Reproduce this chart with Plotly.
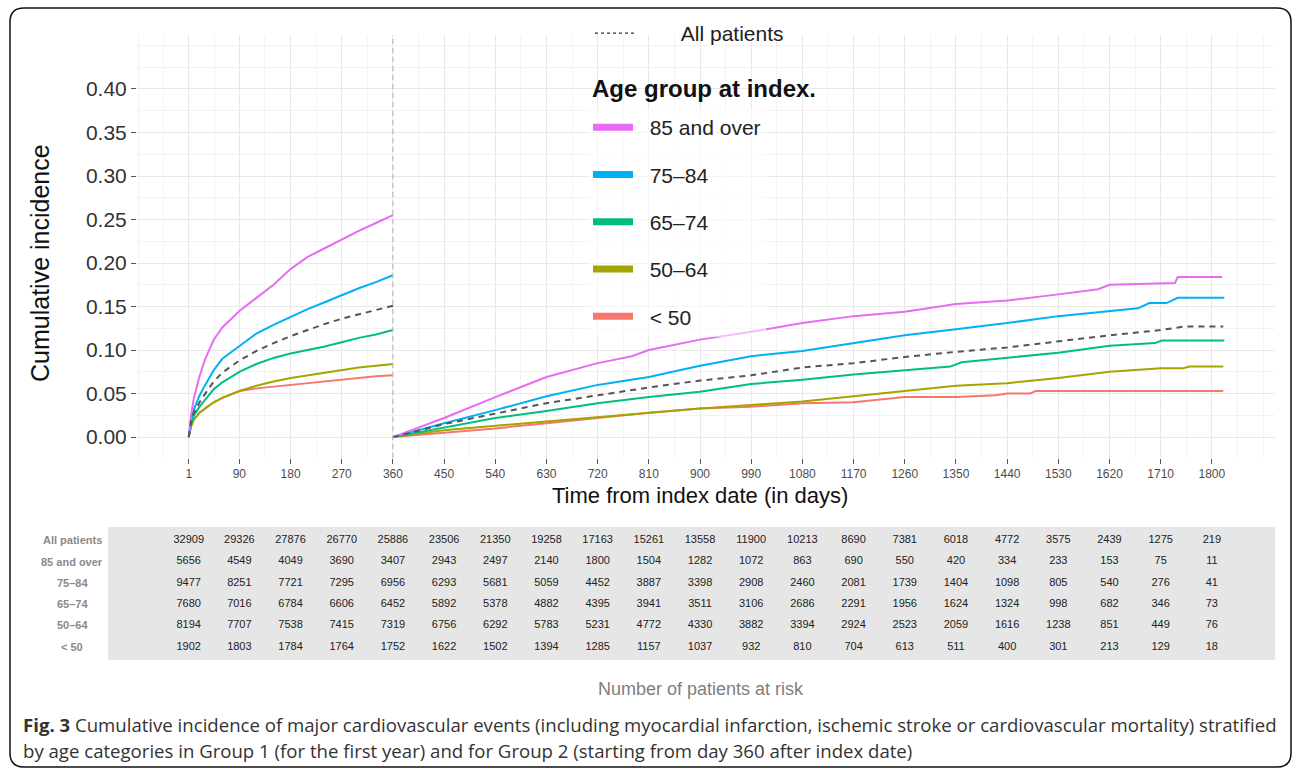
import plotly.graph_objects as go

W, H = 1295, 774

# ---------------- data ----------------
groups = ["85 and over", "75\u201384", "65\u201374", "50\u201364", "< 50"]
colors = ["#E76BF3", "#00B0F6", "#00BF7D", "#A3A500", "#F8766D"]

# Group 1 (first year), days 1..360
days_g1 = [1, 5, 10, 20, 30, 45, 60, 90, 120, 150, 180, 210, 240, 270, 300, 330, 360]
g1_all = [0, 0.018, 0.028, 0.040, 0.050, 0.064, 0.074, 0.088, 0.099, 0.108, 0.116, 0.123, 0.130, 0.136, 0.141, 0.146, 0.151]
g1_85 = [0, 0.025, 0.045, 0.070, 0.090, 0.112, 0.126, 0.145, 0.160, 0.175, 0.193, 0.207, 0.217, 0.227, 0.237, 0.246, 0.255]
g1_75 = [0, 0.020, 0.032, 0.048, 0.060, 0.077, 0.090, 0.105, 0.119, 0.129, 0.138, 0.147, 0.155, 0.163, 0.171, 0.178, 0.186]
g1_65 = [0, 0.015, 0.025, 0.035, 0.043, 0.055, 0.063, 0.075, 0.084, 0.091, 0.096, 0.100, 0.104, 0.109, 0.114, 0.118, 0.123]
g1_50 = [0, 0.012, 0.020, 0.028, 0.033, 0.040, 0.045, 0.053, 0.059, 0.064, 0.068, 0.071, 0.074, 0.077, 0.080, 0.082, 0.084]
g1_u50 = [0, 0.013, 0.020, 0.028, 0.033, 0.040, 0.045, 0.053, 0.056, 0.058, 0.060, 0.062, 0.064, 0.066, 0.068, 0.070, 0.071]

# Group 2 (from day 360)
g2_all_days = [360, 450, 540, 630, 720, 810, 900, 990, 1080, 1170, 1260, 1350, 1440, 1530, 1620, 1710, 1750, 1820]
g2_all = [0, 0.015, 0.027, 0.039, 0.048, 0.057, 0.065, 0.071, 0.080, 0.085, 0.092, 0.098, 0.103, 0.110, 0.117, 0.123, 0.127, 0.127]
g2_85_days = [360, 450, 540, 630, 720, 780, 810, 900, 990, 1080, 1170, 1260, 1350, 1440, 1530, 1600, 1620, 1710, 1735, 1740, 1818]
g2_85 = [0, 0.022, 0.046, 0.069, 0.085, 0.093, 0.100, 0.112, 0.121, 0.131, 0.139, 0.144, 0.153, 0.157, 0.164, 0.170, 0.175, 0.177, 0.177, 0.184, 0.184]
g2_75_days = [360, 450, 540, 630, 720, 810, 900, 990, 1080, 1170, 1260, 1350, 1440, 1530, 1620, 1670, 1690, 1720, 1740, 1822]
g2_75 = [0, 0.016, 0.031, 0.047, 0.060, 0.069, 0.082, 0.093, 0.099, 0.108, 0.117, 0.124, 0.131, 0.139, 0.145, 0.148, 0.154, 0.154, 0.160, 0.160]
g2_65_days = [360, 450, 540, 630, 720, 810, 900, 990, 1080, 1170, 1260, 1340, 1360, 1440, 1530, 1620, 1700, 1712, 1822]
g2_65 = [0, 0.011, 0.022, 0.030, 0.039, 0.046, 0.052, 0.061, 0.066, 0.072, 0.077, 0.081, 0.086, 0.091, 0.097, 0.105, 0.108, 0.111, 0.111]
g2_50_days = [360, 450, 540, 630, 720, 810, 900, 990, 1080, 1170, 1260, 1350, 1440, 1530, 1620, 1710, 1750, 1760, 1820]
g2_50 = [0, 0.008, 0.013, 0.018, 0.023, 0.028, 0.033, 0.037, 0.041, 0.047, 0.053, 0.059, 0.062, 0.068, 0.075, 0.079, 0.079, 0.081, 0.081]
g2_u50_days = [360, 450, 540, 630, 720, 810, 900, 990, 1080, 1170, 1260, 1350, 1420, 1440, 1480, 1490, 1820]
g2_u50 = [0, 0.005, 0.010, 0.016, 0.022, 0.028, 0.033, 0.035, 0.039, 0.040, 0.046, 0.046, 0.048, 0.050, 0.050, 0.053, 0.053]

# Risk table
table_days = [1, 90, 180, 270, 360, 450, 540, 630, 720, 810, 900, 990, 1080, 1170, 1260, 1350, 1440, 1530, 1620, 1710, 1800]
table_rows = ["All patients", "85 and over", "75\u201384", "65\u201374", "50\u201364", "< 50"]
risk_all = [32909, 29326, 27876, 26770, 25886, 23506, 21350, 19258, 17163, 15261, 13558, 11900, 10213, 8690, 7381, 6018, 4772, 3575, 2439, 1275, 219]
risk_85 = [5656, 4549, 4049, 3690, 3407, 2943, 2497, 2140, 1800, 1504, 1282, 1072, 863, 690, 550, 420, 334, 233, 153, 75, 11]
risk_75 = [9477, 8251, 7721, 7295, 6956, 6293, 5681, 5059, 4452, 3887, 3398, 2908, 2460, 2081, 1739, 1404, 1098, 805, 540, 276, 41]
risk_65 = [7680, 7016, 6784, 6606, 6452, 5892, 5378, 4882, 4395, 3941, 3511, 3106, 2686, 2291, 1956, 1624, 1324, 998, 682, 346, 73]
risk_50 = [8194, 7707, 7538, 7415, 7319, 6756, 6292, 5783, 5231, 4772, 4330, 3882, 3394, 2924, 2523, 2059, 1616, 1238, 851, 449, 76]
risk_u50 = [1902, 1803, 1784, 1764, 1752, 1622, 1502, 1394, 1285, 1157, 1037, 932, 810, 704, 613, 511, 400, 301, 213, 129, 18]

x_ticks = table_days
y_ticks = [0, 0.05, 0.10, 0.15, 0.20, 0.25, 0.30, 0.35, 0.40]

# ---------------- helpers ----------------
def px(x):
    return x / W

def py(y):
    return 1 - y / H

FONT = "Liberation Sans, Arial, Helvetica, sans-serif"
CAPTION = "Open Sans, Noto Sans, sans-serif"

fig = go.Figure()

g1_series = [g1_85, g1_75, g1_65, g1_50, g1_u50]
g2_series = [(g2_85_days, g2_85), (g2_75_days, g2_75), (g2_65_days, g2_65),
             (g2_50_days, g2_50), (g2_u50_days, g2_u50)]

for i in reversed(range(5)):
    d2, v2 = g2_series[i]
    fig.add_trace(go.Scatter(
        x=days_g1 + [None] + d2, y=g1_series[i] + [None] + v2,
        mode="lines", line=dict(color=colors[i], width=2),
        showlegend=False, hoverinfo="skip", xaxis="x", yaxis="y"))

fig.add_trace(go.Scatter(
    x=days_g1 + [None] + g2_all_days, y=g1_all + [None] + g2_all,
    mode="lines", line=dict(color="#555555", width=2, dash="6px,5px"),
    showlegend=False, hoverinfo="skip", xaxis="x", yaxis="y"))

# legend proxies
fig.add_trace(go.Scatter(
    x=[None], y=[None], mode="lines", name="\u00a0" * 7 + "All patients",
    line=dict(color="#333333", width=1.3, dash="3px,3px"), legend="legend"))
for i in range(5):
    fig.add_trace(go.Scatter(
        x=[None], y=[None], mode="lines", name="\u00a0\u00a0" + groups[i],
        line=dict(color=colors[i], width=7), legend="legend2",
        legendgroup="g%d" % i))

# risk table numbers
risk_rows = [risk_all, risk_85, risk_75, risk_65, risk_50, risk_u50]
for r, vals in enumerate(risk_rows):
    fig.add_trace(go.Scatter(
        x=table_days, y=[r] * len(table_days), text=[str(v) for v in vals],
        mode="text", textfont=dict(family=FONT, size=11, color="#222222"),
        showlegend=False, hoverinfo="skip", xaxis="x2", yaxis="y2"))

shapes = []
shapes.append(dict(type="rect", xref="paper", yref="paper",
                   x0=px(108), x1=px(1275), y0=py(660), y1=py(527),
                   fillcolor="#e6e6e6", line=dict(width=0), layer="below"))
shapes.append(dict(type="line", xref="x", yref="y domain", x0=360, x1=360, y0=0, y1=1,
                   line=dict(color="#bdbdbd", width=1.2, dash="5px,4px")))
L, R, T, B, rr = 10, 1291, 8, 767, 14
path = ("M {a},{b} L {c},{b} Q {R},{b} {R},{d} L {R},{e} Q {R},{B} {c},{B} "
        "L {a},{B} Q {L},{B} {L},{e} L {L},{d} Q {L},{b} {a},{b} Z").format(
    a=px(L + rr), b=py(T), c=px(R - rr), R=px(R), d=py(T + rr), e=py(B - rr),
    B=py(B), L=px(L))
shapes.append(dict(type="path", xref="paper", yref="paper", path=path,
                   line=dict(color="#111111", width=1.5)))

annotations = []
annotations.append(dict(text="Cumulative incidence", x=px(40), y=py(263), xref="paper", yref="paper",
                        textangle=-90, showarrow=False, font=dict(family=FONT, size=25, color="#111111"),
                        xanchor="center", yanchor="middle"))
annotations.append(dict(text="Time from index date (in days)", x=px(700), y=py(495), xref="paper", yref="paper",
                        showarrow=False, font=dict(family=FONT, size=22, color="#111111"),
                        xanchor="center", yanchor="middle"))
annotations.append(dict(text="<b>Age group at index.</b>", x=px(590), y=py(88), xref="paper", yref="paper",
                        showarrow=False, font=dict(family=FONT, size=24, color="#111111"),
                        xanchor="left", yanchor="middle"))
row_y = [540, 562, 583, 604, 625, 647]
for r, lab in enumerate(table_rows):
    annotations.append(dict(text="<b>%s</b>" % lab, x=px(72), y=py(row_y[r]), xref="paper", yref="paper",
                            showarrow=False, font=dict(family=FONT, size=11, color="#8a8a8a"),
                            xanchor="center", yanchor="middle"))
annotations.append(dict(text="Number of patients at risk", x=px(701), y=py(689), xref="paper", yref="paper",
                        showarrow=False, font=dict(family=FONT, size=18, color="#808080"),
                        xanchor="center", yanchor="middle"))
annotations.append(dict(text="<b>Fig. 3</b> Cumulative incidence of major cardiovascular events (including myocardial infarction, ischemic stroke or cardiovascular mortality) stratified",
                        x=px(21), y=py(724), xref="paper", yref="paper", showarrow=False,
                        font=dict(family=CAPTION, size=18.6, color="#333333"), xanchor="left", yanchor="middle"))
annotations.append(dict(text="by age categories in Group 1 (for the first year) and for Group 2 (starting from day 360 after index date)",
                        x=px(21), y=py(750), xref="paper", yref="paper", showarrow=False,
                        font=dict(family=CAPTION, size=18.6, color="#333333"), xanchor="left", yanchor="middle"))

minor_x = [-88, -43.5, 45.5] + [135 + 90 * k for k in range(20)] + [1890]
minor_y = [0.025 + 0.05 * k for k in range(9)] + [0.45]

fig.update_layout(
    width=W, height=H, autosize=False,
    margin=dict(l=0, r=0, t=0, b=0),
    paper_bgcolor="white", plot_bgcolor="white",
    font=dict(family=FONT, color="#333333"),
    shapes=shapes, annotations=annotations,
    xaxis=dict(domain=[px(137), px(1275)], range=[-90, 1911], anchor="y",
               tickmode="array", tickvals=x_ticks, ticktext=[str(t) for t in x_ticks],
               showgrid=True, gridcolor="#e8e8e8", gridwidth=1,
               minor=dict(tickmode="array", tickvals=minor_x, showgrid=True, gridcolor="#f3f3f3", gridwidth=1),
               ticks="outside", ticklen=5, tickcolor="#555555", tickwidth=1,
               tickfont=dict(family=FONT, size=12, color="#4d4d4d"),
               zeroline=False, showline=False),
    yaxis=dict(domain=[py(458), py(35)], range=[-0.024, 0.462], anchor="x",
               tickmode="array", tickvals=y_ticks, ticktext=["%.2f" % v for v in y_ticks],
               showgrid=True, gridcolor="#e8e8e8", gridwidth=1,
               minor=dict(tickmode="array", tickvals=minor_y, showgrid=True, gridcolor="#f3f3f3", gridwidth=1),
               ticks="outside", ticklen=5, tickcolor="#555555", tickwidth=1,
               tickfont=dict(family=FONT, size=21, color="#333333"),
               zeroline=False, showline=False),
    xaxis2=dict(domain=[px(137), px(1275)], matches="x", anchor="y2", visible=False),
    yaxis2=dict(domain=[py(660), py(527)], range=[5.61, -0.61], anchor="x2", visible=False),
    legend=dict(x=px(590), y=py(13), xanchor="left", yanchor="top",
                bgcolor="rgba(255,255,255,0)", font=dict(family=FONT, size=21, color="#222222"),
                itemwidth=40),
    legend2=dict(x=px(588), y=py(107), xanchor="left", yanchor="top",
                 bgcolor="rgba(255,255,255,0.55)",
                 font=dict(family=FONT, size=21, color="#222222"),
                 traceorder="grouped", tracegroupgap=17, itemwidth=40),
)

fig.write_html("out.html", config={"displayModeBar": False},
               post_script="document.body.style.margin='0px';")
